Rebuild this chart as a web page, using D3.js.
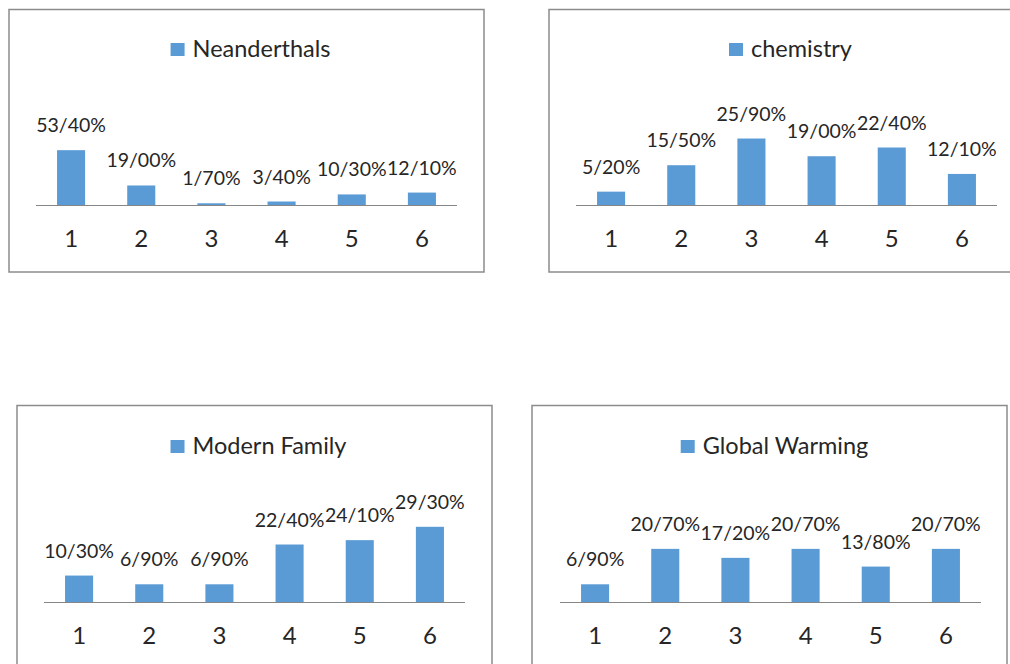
<!DOCTYPE html>
<html>
<head>
<meta charset="utf-8">
<script src="https://cdn.jsdelivr.net/npm/d3@7"></script>
<style>
  html, body { margin: 0; padding: 0; background: #fff; }
  svg { display: block; }
  text { font-family: Lato, "Open Sans", sans-serif; fill: #262626; }
</style>
</head>
<body>
<svg id="chart" width="1010" height="664"></svg>
<script>
const categories = ["1", "2", "3", "4", "5", "6"];
const seriesNames = ["Neanderthals", "chemistry", "Modern Family", "Global Warming"];
const neanderthals = [53.4, 19.0, 1.7, 3.4, 10.3, 12.1];
const chemistry = [5.2, 15.5, 25.9, 19.0, 22.4, 12.1];
const modernFamily = [10.3, 6.9, 6.9, 22.4, 24.1, 29.3];
const globalWarming = [6.9, 20.7, 17.2, 20.7, 13.8, 20.7];
const axisMax = [75, 30, 30, 30];

const seriesValues = [neanderthals, chemistry, modernFamily, globalWarming];

// layout of each panel: frame box and plot area
const panels = [
  { box: [9, 9.5, 475, 262.5], x0: 36, base: 205 },
  { box: [549, 9.5, 480, 262.5], x0: 576, base: 205 },
  { box: [17, 405.5, 475, 300], x0: 44, base: 602 },
  { box: [532, 405.5, 475, 300], x0: 560, base: 602 }
];
const plotW = 421, plotH = 77;
const barColor = "#5B9BD5";
const fmt = v => d3.format(".2f")(v).replace(".", "/") + "%";

const svg = d3.select("#chart");

panels.forEach((p, i) => {
  const values = seriesValues[i];
  const g = svg.append("g");
  g.append("rect")
    .attr("x", p.box[0]).attr("y", p.box[1])
    .attr("width", p.box[2]).attr("height", p.box[3])
    .attr("fill", "#fff").attr("stroke", "#8c8c8c").attr("stroke-width", 1.5);

  const x = d3.scaleBand().domain(categories)
    .range([p.x0, p.x0 + plotW]).paddingInner(0.6).paddingOuter(0.3);
  const y = d3.scaleLinear().domain([0, axisMax[i]]).range([p.base, p.base - plotH]);

  g.selectAll("rect.bar").data(values).join("rect")
    .attr("class", "bar")
    .attr("x", (d, j) => x(categories[j]))
    .attr("width", x.bandwidth())
    .attr("y", d => y(d))
    .attr("height", d => y(0) - y(d))
    .attr("fill", barColor);

  // axis
  const axis = d3.axisBottom(x).tickSize(0).tickPadding(0);
  const ag = g.append("g").attr("transform", `translate(0,${p.base})`).call(axis);
  ag.select(".domain").attr("stroke", "#868686").attr("stroke-width", 1)
    .attr("d", `M${p.x0},0.5H${p.x0 + plotW}`);
  ag.selectAll(".tick text")
    .attr("y", 42).attr("dy", null)
    .style("font-family", "Lato, 'Open Sans', sans-serif")
    .style("font-size", "24px").style("fill", "#262626");

  // data labels
  g.selectAll("text.lbl").data(values).join("text")
    .attr("class", "lbl")
    .attr("x", (d, j) => x(categories[j]) + x.bandwidth() / 2)
    .attr("y", d => y(d) - 18)
    .attr("text-anchor", "middle")
    .style("font-size", "19.5px")
    .text(d => fmt(d));

  // legend
  const cx = p.x0 + plotW / 2 + 4;
  const lg = g.append("g");
  const lt = lg.append("text")
    .attr("y", p.base - 148)
    .style("font-size", "23.5px")
    .text(seriesNames[i]);
  const tw = lt.node().getComputedTextLength();
  const total = 14 + 8 + tw;
  const sx = cx - total / 2;
  lg.append("rect").attr("x", sx).attr("y", p.base - 162).attr("width", 14).attr("height", 13).attr("fill", barColor);
  lt.attr("x", sx + 22);
});
</script>
</body>
</html>
